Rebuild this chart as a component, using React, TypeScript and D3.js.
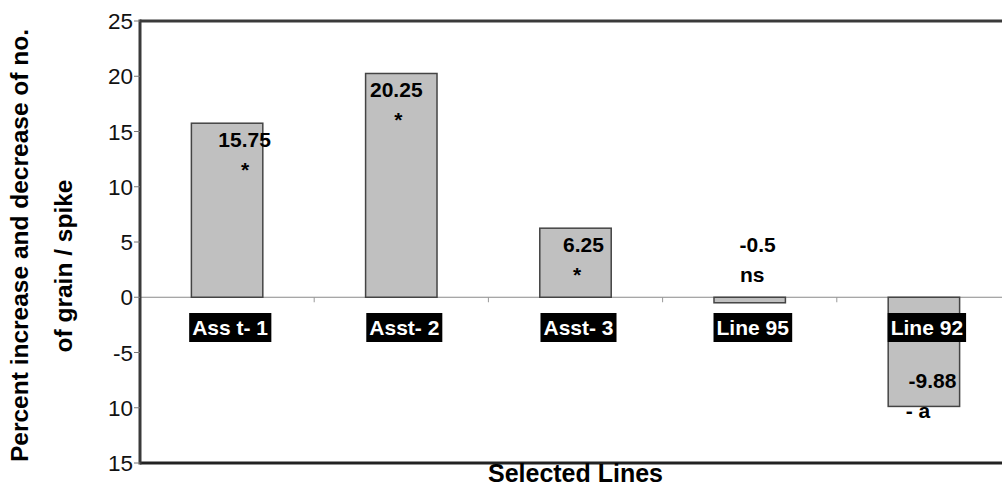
import React, { useEffect, useRef } from 'react';
import * as d3 from 'd3';

const categories = ['Ass t- 1', 'Asst- 2', 'Asst- 3', 'Line 95', 'Line 92'];
const values = [15.75, 20.25, 6.25, -0.5, -9.88];
const valueLabels = ['15.75', '20.25', '6.25', '-0.5', '-9.88'];
const significance = ['*', '*', '*', 'ns', '- a'];
const yTicks = [25, 20, 15, 10, 5, 0, -5, -10, -15];
const yTickLabels = ['25', '20', '15', '10', '5', '0', '-5', '10', '15'];
const xTitle = 'Selected Lines';
const yTitleLines = ['Percent increase and decrease of no.', 'of grain / spike'];

// label nudges (layout only)
const valueDx = [17.5, -5, 8, 8, 8.5];
const sigDx = [18, -3, 1.5, 2.5, -6];

const W = 1002;
const H = 486;
const FONT = '"Liberation Sans", Arial, sans-serif';

export default function App() {
  const ref = useRef<SVGSVGElement>(null);

  useEffect(() => {
    const svg = d3.select(ref.current);
    svg.selectAll('*').remove();

    const left = 140;
    const top = 21;
    const bottom = 463;
    const y = d3.scaleLinear().domain([-15, 25]).range([bottom, top]);
    const x = d3
      .scaleBand<string>()
      .domain(categories)
      .range([left, 1011])
      .paddingInner(0.59)
      .paddingOuter(0.295);
    const step = x.step();

    svg.append('rect').attr('width', W).attr('height', H).attr('fill', '#fff');

    // zero line
    svg
      .append('line')
      .attr('x1', left)
      .attr('x2', W)
      .attr('y1', y(0))
      .attr('y2', y(0))
      .attr('stroke', '#8a8a8a')
      .attr('stroke-width', 1.2);

    // category boundary ticks
    categories.slice(1).forEach((c) => {
      const bx = (x(c) as number) - step * 0.295;
      svg
        .append('line')
        .attr('x1', bx)
        .attr('x2', bx)
        .attr('y1', y(0))
        .attr('y2', y(0) + 5)
        .attr('stroke', '#999')
        .attr('stroke-width', 1);
    });

    // bars
    svg
      .selectAll('rect.bar')
      .data(values)
      .enter()
      .append('rect')
      .attr('class', 'bar')
      .attr('x', (_, i) => x(categories[i]) as number)
      .attr('width', x.bandwidth())
      .attr('y', (v) => y(Math.max(0, v)))
      .attr('height', (v) => Math.abs(y(v) - y(0)))
      .attr('fill', '#c0c0c0')
      .attr('stroke', '#444')
      .attr('stroke-width', 1.5);

    // frame
    svg
      .append('line')
      .attr('x1', left)
      .attr('x2', W)
      .attr('y1', top)
      .attr('y2', top)
      .attr('stroke', '#3a3a3a')
      .attr('stroke-width', 3);
    svg
      .append('line')
      .attr('x1', left)
      .attr('x2', W)
      .attr('y1', bottom)
      .attr('y2', bottom)
      .attr('stroke', '#222')
      .attr('stroke-width', 3);
    svg
      .append('line')
      .attr('x1', left)
      .attr('x2', left)
      .attr('y1', top - 1.5)
      .attr('y2', bottom + 1.5)
      .attr('stroke', '#3a3a3a')
      .attr('stroke-width', 3);

    // y ticks
    yTicks.forEach((t, i) => {
      svg
        .append('line')
        .attr('x1', left - 6)
        .attr('x2', left)
        .attr('y1', y(t))
        .attr('y2', y(t))
        .attr('stroke', '#777')
        .attr('stroke-width', 1);
      svg
        .append('text')
        .attr('x', 133)
        .attr('y', y(t) + 8)
        .attr('text-anchor', 'end')
        .attr('font-family', FONT)
        .attr('font-size', 22.5)
        .attr('fill', '#111')
        .text(yTickLabels[i]);
    });

    // category labels (black boxes)
    categories.forEach((c) => {
      const cx = (x(c) as number) + x.bandwidth() / 2 + 3;
      const g = svg.append('g');
      const rect = g.append('rect').attr('fill', '#000');
      const txt = g
        .append('text')
        .attr('x', cx)
        .attr('y', 335)
        .attr('text-anchor', 'middle')
        .attr('font-family', FONT)
        .attr('font-weight', 'bold')
        .attr('font-size', 21)
        .attr('fill', '#fff')
        .text(c);
      const bb = (txt.node() as SVGTextElement).getBBox();
      rect
        .attr('x', bb.x - 3)
        .attr('width', bb.width + 6)
        .attr('y', 313)
        .attr('height', 29);
    });

    // value labels
    values.forEach((v, i) => {
      const cx = (x(categories[i]) as number) + x.bandwidth() / 2;
      let base: number;
      if (v > 1) base = y(v) + 24;
      else if (v > -2) base = y(0) - 45;
      else base = y(v) - 18;
      svg
        .append('text')
        .attr('x', cx + valueDx[i])
        .attr('y', base)
        .attr('text-anchor', 'middle')
        .attr('font-family', FONT)
        .attr('font-weight', 'bold')
        .attr('font-size', 21)
        .attr('fill', '#000')
        .text(valueLabels[i]);
      svg
        .append('text')
        .attr('x', cx + sigDx[i])
        .attr('y', base + 29.5)
        .attr('text-anchor', 'middle')
        .attr('font-family', FONT)
        .attr('font-weight', 'bold')
        .attr('font-size', 21)
        .attr('fill', '#000')
        .text(significance[i]);
    });

    // axis titles
    svg
      .append('text')
      .attr('x', 575.5)
      .attr('y', 482)
      .attr('text-anchor', 'middle')
      .attr('font-family', FONT)
      .attr('font-weight', 'bold')
      .attr('font-size', 25)
      .attr('fill', '#000')
      .text(xTitle);

    const yTitleX = [28, 72];
    const yTitleY = [245.5, 266];
    yTitleLines.forEach((line, i) => {
      svg
        .append('text')
        .attr('transform', `translate(${yTitleX[i]},${yTitleY[i]}) rotate(-90)`)
        .attr('text-anchor', 'middle')
        .attr('font-family', FONT)
        .attr('font-weight', 'bold')
        .attr('font-size', 24.5)
        .attr('fill', '#000')
        .text(line);
    });
  }, []);

  return (
    <svg
      ref={ref}
      width={W}
      height={H}
      style={{ position: 'absolute', left: 0, top: 0, display: 'block' }}
    />
  );
}
